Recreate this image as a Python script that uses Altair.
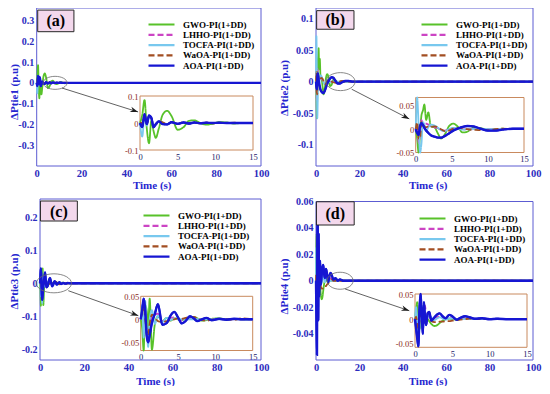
import altair as alt
import pandas as pd

# ---------------- data ----------------
METHODS = ["GWO-PI(1+DD)", "LHHO-PI(1+DD)", "TOCFA-PI(1+DD)", "WaOA-PI(1+DD)", "AOA-PI(1+DD)"]
COLORS = ["#58c22a", "#cc44c4", "#78c8ee", "#a24e22", "#1616d2"]
DASHES = [[1, 0], [6, 3], [1, 0], [6, 3], [1, 0]]

X_TICKS = [0, 20, 40, 60, 80, 100]
INSET_X_TICKS = [0, 5, 10, 15]

# panel (a)
T_A = [0, 0.3, 0.6, 0.9, 1.2, 1.5, 1.8, 2.1, 2.5, 3.0, 3.6, 4.2, 5.0, 5.8, 6.5, 7.2, 8.0, 8.8, 9.6, 10.5, 11.5, 12.5, 13.5, 15, 20, 100]
A_GWO = [0, 0.03, 0.085, -0.02, -0.075, 0.008, -0.03, -0.055, -0.02, 0.03, 0.045, 0.025, -0.025, -0.015, 0.008, 0.01, 0.0, -0.006, -0.003, 0.003, 0.002, -0.002, 0, 0, 0, 0]
A_LHHO = [0, -0.01, 0.03, 0.0, 0.025, 0.02, -0.012, -0.006, 0.008, 0.001, -0.005, 0.004, -0.003, 0.002, -0.002, 0.001, 0, 0.001, 0, 0, 0, 0, 0, 0, 0, 0]
A_TOCFA = [0, -0.05, 0.03, -0.01, 0.02, 0.015, -0.012, -0.008, 0.008, 0.002, -0.005, 0.003, -0.003, 0.002, -0.001, 0.001, 0, 0, 0, 0, 0, 0, 0, 0, 0, 0]
A_WAOA = [0, 0.0, 0.028, -0.004, 0.022, 0.018, -0.01, -0.006, 0.007, 0.002, -0.004, 0.003, -0.004, 0.003, -0.002, 0.002, -0.002, 0.001, -0.001, 0.001, 0, 0.001, 0, 0, 0, 0]
A_AOA = [0, -0.015, 0.033, -0.004, 0.028, 0.02, -0.016, -0.004, 0.006, -0.004, -0.005, 0.003, -0.003, 0.002, -0.002, 0.002, -0.001, 0.001, 0, 0.001, 0, 0, 0, 0, 0, 0]

# panel (b)
T_B = [0, 0.2, 0.4, 0.6, 0.8, 1.0, 1.2, 1.45, 1.75, 2.1, 2.6, 3.1, 3.5, 4.0, 4.6, 5.2, 5.8, 6.5, 7.2, 8.0, 9.0, 10.0, 11.0, 12.0, 13.5, 15, 17, 20, 100]
B_GWO = [0, -0.02, -0.058, -0.01, 0.03, 0.04, 0.053, 0.02, 0.036, 0.006, 0.004, -0.01, -0.02, -0.012, 0.006, 0.012, 0.006, -0.007, -0.005, 0.003, 0.002, -0.001, 0, 0.001, 0, 0, 0, 0, 0]
B_LHHO = [0, 0.01, -0.03, -0.01, 0.02, 0.012, 0.013, 0.012, 0.01, 0.006, 0.004, 0.002, -0.002, -0.003, -0.001, 0.002, 0.002, 0, -0.001, 0, 0, 0, 0, 0, 0, 0, 0, 0, 0]
B_TOCFA = [0, 0.072, 0.01, -0.058, -0.03, 0.015, 0.01, -0.004, 0.004, 0.01, 0.008, 0.003, -0.002, -0.004, 0, 0.003, 0.002, -0.001, 0, 0, 0, 0, 0, 0, 0, 0, 0, 0, 0]
B_WAOA = [0, 0.015, -0.02, -0.02, 0.015, 0.01, 0.006, 0.004, 0.006, 0.005, 0.006, 0.004, 0, -0.004, -0.003, 0.001, 0.003, 0.002, 0, -0.001, -0.002, -0.002, 0, 0.001, 0, 0, 0, 0, 0]
B_AOA = [0, -0.008, -0.012, 0.006, 0.013, 0.009, 0.003, -0.003, -0.008, -0.013, -0.016, -0.018, -0.018, -0.015, -0.009, -0.003, 0.001, 0.005, 0.007, 0.006, 0.001, -0.003, -0.003, -0.001, 0.001, 0.001, 0, 0, 0]

# panel (c)
T_C = [0, 0.2, 0.4, 0.6, 0.8, 1.0, 1.2, 1.5, 1.9, 2.3, 2.9, 3.5, 4.0, 4.5, 5.0, 5.5, 6.0, 6.6, 7.1, 7.6, 8.2, 8.8, 9.5, 10.5, 11.5, 12.5, 13.5, 15, 20, 100]
C_GWO = [0, -0.02, -0.068, 0.03, 0.02, -0.02, 0.045, -0.066, -0.01, 0.006, -0.004, 0.003, -0.003, 0.002, 0, -0.002, 0.002, 0.004, 0.005, 0.002, -0.003, -0.002, 0.001, 0.002, -0.001, 0.001, 0, 0, 0, 0]
C_LHHO = [0, 0.015, 0.035, 0.01, -0.03, -0.045, -0.02, 0.005, 0.01, 0.012, -0.004, -0.002, 0.003, 0.004, 0, -0.003, 0, 0.002, 0.001, -0.001, 0, 0, 0, 0, 0, 0, 0, 0, 0, 0]
C_TOCFA = [0, 0.03, -0.04, 0.04, -0.02, -0.06, 0, 0.02, -0.01, 0.008, -0.006, 0.003, -0.002, 0.002, 0, 0, 0, 0, 0, 0, 0, 0, 0, 0, 0, 0, 0, 0, 0, 0]
C_WAOA = [0, 0.015, 0.03, 0, -0.025, -0.035, -0.01, 0.01, 0.005, -0.004, -0.006, -0.004, -0.002, 0, 0.002, 0.001, 0.003, 0.005, 0.005, 0.002, -0.002, -0.003, -0.001, 0.001, 0, -0.001, 0.002, 0, 0, 0]
C_AOA = [0, 0.02, 0.045, 0.02, -0.035, -0.05, -0.035, -0.008, 0.012, 0.033, -0.012, -0.008, 0.008, 0.016, 0.004, -0.009, -0.004, 0.0065, 0.002, -0.004, 0, 0.003, -0.002, 0.001, -0.001, 0.001, 0, 0, 0, 0]

# panel (d)
T_D = [0, 0.15, 0.3, 0.45, 0.6, 0.75, 0.9, 1.05, 1.2, 1.35, 1.5, 1.7, 1.9, 2.2, 2.6, 3.0, 3.3, 3.7, 4.1, 4.6, 5.0, 5.6, 6.1, 6.7, 7.3, 8.0, 9.0, 10, 11, 12.5, 15, 20, 100]
D_GWO = [0, 0.02, 0.035, 0, -0.02, -0.01, 0.01, 0.005, -0.005, -0.003, 0.002, 0, -0.004, -0.01, -0.014, -0.012, -0.008, -0.003, 0, 0.001, 0, -0.001, 0, 0, 0, 0, 0, 0, 0, 0, 0, 0, 0]
D_LHHO = [0, -0.01, -0.025, -0.03, 0.01, 0.035, 0.005, -0.015, 0.02, 0.028, 0.002, 0.008, 0.006, -0.002, 0.002, 0.005, 0.006, 0.003, 0.001, 0.004, 0.003, 0, 0.001, 0.002, 0.001, 0, 0, 0, 0, 0, 0, 0, 0]
D_TOCFA = [0, 0.025, -0.01, -0.035, -0.02, 0.03, 0, -0.02, 0.01, 0.015, -0.005, 0.005, 0.008, 0.003, -0.002, 0.002, 0.004, 0.001, -0.001, 0.002, 0.001, 0, 0, 0, 0, 0, 0, 0, 0, 0, 0, 0, 0]
D_WAOA = [0, 0.005, -0.01, -0.02, -0.005, 0.02, 0, -0.01, 0.01, 0.005, -0.003, 0.002, 0, -0.004, -0.006, -0.006, -0.005, -0.005, -0.004, -0.004, -0.003, -0.002, -0.001, 0, 0.001, 0, 0, 0, 0, 0, 0, 0, 0]
D_AOA = [0, -0.02, -0.04, -0.056, 0.02, 0.058, 0.01, -0.03, 0.035, 0, -0.012, 0.012, 0.015, -0.003, 0.004, 0.01, 0.012, 0.006, 0.002, 0.009, 0.006, -0.001, 0.003, 0.006, 0.004, 0.001, 0.002, 0, 0.001, 0, 0, 0, 0]

DATA = {
    "a": dict(t=T_A, series=[A_GWO, A_LHHO, A_TOCFA, A_WAOA, A_AOA], ylabel="ΔPtie1 (p.u)", tag="(a)",
              yticks=[-0.3, -0.2, -0.1, 0, 0.1, 0.2, 0.3], iyticks=[-0.1, 0, 0.1]),
    "b": dict(t=T_B, series=[B_GWO, B_LHHO, B_TOCFA, B_WAOA, B_AOA], ylabel="ΔPtie2 (p.u)", tag="(b)",
              yticks=[-0.1, -0.05, 0, 0.05, 0.1], iyticks=[-0.05, 0, 0.05]),
    "c": dict(t=T_C, series=[C_GWO, C_LHHO, C_TOCFA, C_WAOA, C_AOA], ylabel="ΔPtie3 (p.u)", tag="(c)",
              yticks=[-0.2, -0.1, 0, 0.1, 0.2], iyticks=[-0.05, 0, 0.05]),
    "d": dict(t=T_D, series=[D_GWO, D_LHHO, D_TOCFA, D_WAOA, D_AOA], ylabel="ΔPtie4 (p.u)", tag="(d)",
              yticks=[-0.04, -0.02, 0, 0.02, 0.04, 0.06], iyticks=[-0.05, 0, 0.05]),
}

# ---------------- layout (pixels / data-space annotation anchors) ----------------
W, H = 534, 378
FONT = "Liberation Serif"
BLUE_LABEL = "#2c2cbe"
BLUE_TITLE = "#2626d0"
FRAME = "#5c5cd2"
INSET_FRAME = "#c98a5e"
INSET_XLAB = "#22226a"
INSET_YLAB = "#8a2a22"
BOX_FILL = "#f3d8ec"

LAYOUT = {
    "a": dict(xr=[28.7, 253], yr=[158, 0], yd=[-0.4, 0.36],
              ixr=[132, 245], iyr=[142, 88], iyd=[-0.1, 0.1],
              xt=(143.7, 19.5), yt=(6, 83.5), leg=(139, 11.5),
              box=(0.45, 16.6, 0.246, 0.350), ell=(8.2, 0.0, 12, 6.5),
              arrow=(11.3, -0.025, 45.2, -0.140, 18.7)),
    "b": dict(xr=[308, 525], yr=[158, 0], yd=[-0.1335, 0.1165],
              ixr=[407.7, 516], iyr=[144.5, 89.5], iyd=[-0.05, 0.068],
              xt=(419.7, 19.5), yt=(276, 79.5), leg=(412, 11.5),
              box=(0.3, 17.5, 0.0829, 0.1123), ell=(11.3, 0.0, 14.5, 9),
              arrow=(16.45, -0.012, 43.0, -0.059, 27.3)),
    "c": dict(xr=[32, 253], yr=[352, 191], yd=[-0.2324, 0.2555],
              ixr=[132.7, 244.7], iyr=[342.5, 288.3], iyd=[-0.068, 0.05],
              xt=(147, 21), yt=(6, 273), leg=(134, 202.5),
              box=(0.2, 16.9, 0.1888, 0.2494), ell=(6.3, 0.0, 17.5, 9.5),
              arrow=(12.8, -0.0224, 44.5, -0.098, 19.7)),
    "d": dict(xr=[308, 525], yr=[352, 193.5], yd=[-0.06, 0.06],
              ixr=[407, 519], iyr=[339.3, 286], iyd=[-0.058, 0.052],
              xt=(419.5, 21), yt=(276, 278), leg=(410, 205.5),
              box=(0.2, 17.6, 0.0422, 0.0598), ell=(11.1, 0.0, 13, 8.5),
              arrow=(13.4, -0.0062, 43.0, -0.0227, 18.6)),
}

LABEL_EXPR = "replace(format(datum.value, '.2~f'), '\u2212', '-')"
ARROW_PATH = "M0,0L-2,-0.7L-1.4,0L-2,0.7Z"
LEGEND_LINE = "M-3.714,0L3.714,0"   # 26px line when size=49 (scale 3.5)


def long_df(t, series, tmax=None):
    rows = []
    for m, vals in zip(METHODS, series):
        for ti, vi in zip(t, vals):
            if tmax is None or ti <= tmax:
                rows.append({"t": ti, "v": vi, "method": m})
    return pd.DataFrame(rows)


def main_panel(key):
    L, D = LAYOUT[key], DATA[key]
    df = long_df(D["t"], D["series"])
    xs = alt.Scale(domain=[0, 100], range=L["xr"], nice=False, zero=False)
    ys = alt.Scale(domain=L["yd"], range=L["yr"], nice=False, zero=False)
    ax_x = alt.Axis(orient="bottom", offset=L["yr"][0] - H, values=X_TICKS, labelExpr=LABEL_EXPR,
                    labelFont=FONT, labelFontWeight="bold", labelFontSize=10.5, labelColor=BLUE_LABEL,
                    labelPadding=2, labelFlush=False, labelOverlap=False, ticks=False, domain=False, grid=False,
                    title="Time (s)", titleFont=FONT, titleFontWeight="bold", titleFontSize=11,
                    titleColor=BLUE_TITLE, titleX=L["xt"][0], titleY=L["xt"][1],
                    titleAlign="center", titleBaseline="middle")
    ax_y = alt.Axis(orient="left", offset=-L["xr"][0], values=D["yticks"], labelExpr=LABEL_EXPR,
                    labelFont=FONT, labelFontWeight="bold", labelFontSize=10, labelColor=BLUE_LABEL,
                    labelPadding=3, labelFlush=False, labelOverlap=False, ticks=False, domain=False, grid=False,
                    title=D["ylabel"], titleFont=FONT, titleFontWeight="bold", titleFontSize=11,
                    titleColor=BLUE_TITLE, titleX=L["yt"][0] - L["xr"][0], titleY=L["yt"][1],
                    titleAngle=270, titleAlign="center", titleBaseline="middle")
    leg = alt.Legend(orient="none", legendX=L["leg"][0] + 9.5, legendY=L["leg"][1], title=None,
                     symbolType=LEGEND_LINE, symbolSize=49, symbolStrokeWidth=2.2,
                     labelFont=FONT, labelFontWeight="bold", labelFontSize=9, labelColor="black",
                     labelOffset=16.5, rowPadding=0.3, padding=0, offset=0)

    def X(f):
        return alt.X(f, type="quantitative", scale=xs, axis=ax_x)

    def Y(f):
        return alt.Y(f, type="quantitative", scale=ys, axis=ax_y)

    frame_df = pd.DataFrame({"x0": [0], "x1": [100], "y0": [L["yd"][0]], "y1": [L["yd"][1]]})
    frame = alt.Chart(frame_df).mark_rect(fillOpacity=0, stroke=FRAME, strokeWidth=1).encode(
        x=X("x0"), x2="x1:Q", y=Y("y0"), y2="y1:Q")

    lines = alt.Chart(df).mark_line(interpolate="monotone", strokeWidth=1.8).encode(
        x=X("t"), y=Y("v"),
        color=alt.Color("method:N", scale=alt.Scale(domain=METHODS, range=COLORS), legend=leg),
        strokeDash=alt.StrokeDash("method:N", scale=alt.Scale(domain=METHODS, range=DASHES), legend=leg))
    aoa = alt.Chart(df[df.method == METHODS[-1]]).mark_line(
        interpolate="monotone", strokeWidth=2.4, color=COLORS[-1]).encode(x=X("t"), y=Y("v"))

    bx = L["box"]
    box_df = pd.DataFrame({"x0": [bx[0]], "x1": [bx[1]], "y0": [bx[2]], "y1": [bx[3]],
                           "xm": [(bx[0] + bx[1]) / 2], "ym": [(bx[2] + bx[3]) / 2], "tag": [D["tag"]]})
    box = alt.Chart(box_df).mark_rect(fill=BOX_FILL, stroke="#262626", strokeWidth=1).encode(
        x=X("x0"), x2="x1:Q", y=Y("y0"), y2="y1:Q")
    tag = alt.Chart(box_df).mark_text(font=FONT, fontWeight="bold", fontSize=16, color="black",
                                      align="center", baseline="middle", dy=0.5).encode(
        x=X("xm"), y=Y("ym"), text="tag:N")

    ex, ey, rx, ry = L["ell"]
    ratio = ry / rx
    ell_path = f"M-1,0A1,{ratio:.3f},0,1,1,1,0A1,{ratio:.3f},0,1,1,-1,0Z"
    ell_df = pd.DataFrame({"x": [ex], "y": [ey]})
    ell = alt.Chart(ell_df).mark_point(shape=ell_path, size=(2 * rx) ** 2, filled=False,
                                       color="#6a6a6a", strokeWidth=0.8, opacity=1).encode(x=X("x"), y=Y("y"))

    a = L["arrow"]
    arr_df = pd.DataFrame({"xa": [a[0]], "ya": [a[1]], "xb": [a[2]], "yb": [a[3]]})
    arr_line = alt.Chart(arr_df).mark_rule(color="#3a3a3a", strokeWidth=0.8).encode(
        x=X("xa"), y=Y("ya"), x2="xb:Q", y2="yb:Q")
    arr_head = alt.Chart(arr_df).mark_point(shape=ARROW_PATH, size=64, filled=True, color="#1e1e1e",
                                            opacity=1, angle=a[4]).encode(x=X("xb"), y=Y("yb"))

    return alt.layer(frame, lines, aoa, ell, arr_line, arr_head, box, tag)


def inset_panel(key):
    L, D = LAYOUT[key], DATA[key]
    df = long_df(D["t"], D["series"], tmax=15)
    xs = alt.Scale(domain=[0, 15], range=L["ixr"], nice=False, zero=False, clamp=True)
    ys = alt.Scale(domain=L["iyd"], range=L["iyr"], nice=False, zero=False, clamp=True)
    ax_x = alt.Axis(orient="bottom", offset=L["iyr"][0] - H, values=INSET_X_TICKS, labelExpr=LABEL_EXPR,
                    labelFont=FONT, labelFontSize=8.5, labelColor=INSET_XLAB, labelPadding=2,
                    labelFlush=False, labelOverlap=False, ticks=False, domain=False, grid=False, title=None)
    ax_y = alt.Axis(orient="left", offset=-L["ixr"][0], values=D["iyticks"], labelExpr=LABEL_EXPR,
                    labelFont=FONT, labelFontSize=8.5, labelColor=INSET_YLAB, labelPadding=2,
                    labelFlush=False, labelOverlap=False, ticks=False, domain=False, grid=False, title=None)

    def X(f):
        return alt.X(f, type="quantitative", scale=xs, axis=ax_x)

    def Y(f):
        return alt.Y(f, type="quantitative", scale=ys, axis=ax_y)

    frame_df = pd.DataFrame({"x0": [0], "x1": [15], "y0": [L["iyd"][0]], "y1": [L["iyd"][1]]})
    frame = alt.Chart(frame_df).mark_rect(fill="white", stroke=INSET_FRAME, strokeWidth=1).encode(
        x=X("x0"), x2="x1:Q", y=Y("y0"), y2="y1:Q")
    lines = alt.Chart(df).mark_line(interpolate="monotone", strokeWidth=1.8).encode(
        x=X("t"), y=Y("v"),
        color=alt.Color("method:N", scale=alt.Scale(domain=METHODS, range=COLORS), legend=None),
        strokeDash=alt.StrokeDash("method:N", scale=alt.Scale(domain=METHODS, range=DASHES), legend=None))
    aoa = alt.Chart(df[df.method == METHODS[-1]]).mark_line(
        interpolate="monotone", strokeWidth=2.4, color=COLORS[-1]).encode(x=X("t"), y=Y("v"))
    return alt.layer(frame, lines, aoa)


layers = []
for k in ["a", "b", "c", "d"]:
    layers.append(main_panel(k))
    layers.append(inset_panel(k))

chart = alt.layer(*layers).resolve_scale(
    x="independent", y="independent", color="independent", strokeDash="independent"
).resolve_axis(x="independent", y="independent").resolve_legend(
    color="independent", strokeDash="independent"
).properties(
    width=W, height=H, autosize=alt.AutoSizeParams(type="none"), padding=0
).configure_view(stroke=None)

chart.save("out.html", embed_options={"renderer": "svg", "actions": False})
